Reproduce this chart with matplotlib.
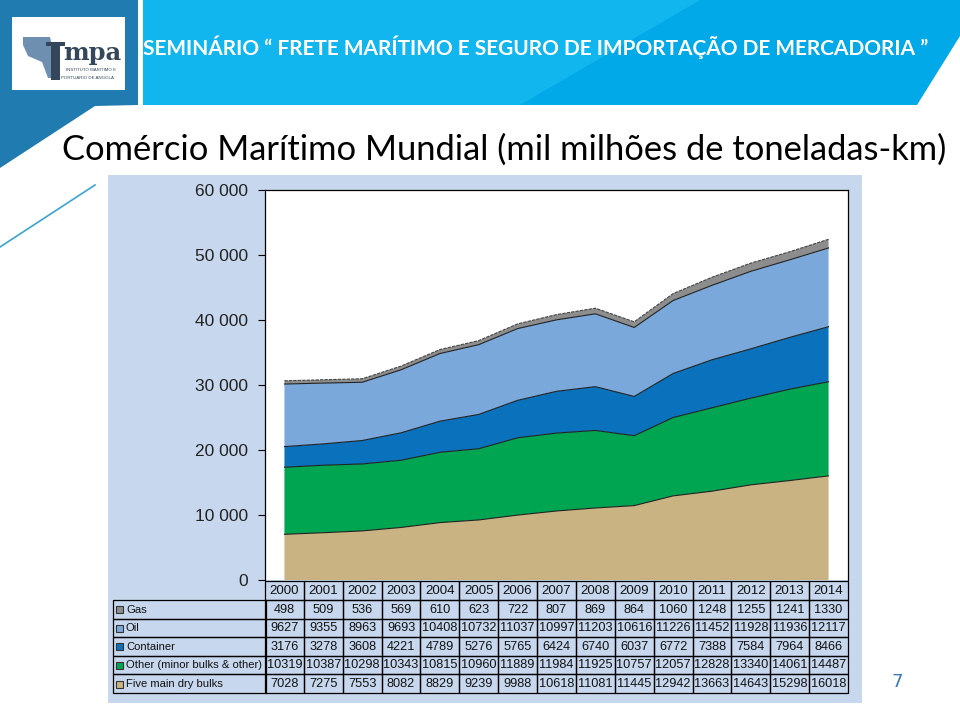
import matplotlib.pyplot as plt
from matplotlib.patches import Polygon, Rectangle
from matplotlib.transforms import blended_transform_factory

years = [2000, 2001, 2002, 2003, 2004, 2005, 2006, 2007, 2008, 2009, 2010, 2011, 2012, 2013, 2014]
gas = [498, 509, 536, 569, 610, 623, 722, 807, 869, 864, 1060, 1248, 1255, 1241, 1330]
oil = [9627, 9355, 8963, 9693, 10408, 10732, 11037, 10997, 11203, 10616, 11226, 11452, 11928, 11936, 12117]
container = [3176, 3278, 3608, 4221, 4789, 5276, 5765, 6424, 6740, 6037, 6772, 7388, 7584, 7964, 8466]
other = [10319, 10387, 10298, 10343, 10815, 10960, 11889, 11984, 11925, 10757, 12057, 12828, 13340, 14061, 14487]
dry_bulks = [7028, 7275, 7553, 8082, 8829, 9239, 9988, 10618, 11081, 11445, 12942, 13663, 14643, 15298, 16018]

row_names = ['Gas', 'Oil', 'Container', 'Other (minor bulks & other)', 'Five main dry bulks']
row_values = [gas, oil, container, other, dry_bulks]
row_colors = ['#8d8d8d', '#7ba8da', '#0a72bd', '#00a551', '#cab382']
y_ticks = [0, 10000, 20000, 30000, 40000, 50000, 60000]

title = 'Comércio Marítimo Mundial (mil milhões de toneladas-km)'
banner = 'SEMINÁRIO \u201c FRETE MARÍTIMO E SEGURO DE IMPORTAÇÃO DE MERCADORIA \u201d'

sans = 'Liberation Sans'

W, H = 960, 707
fig = plt.figure(figsize=(W / 100, H / 100), dpi=100)

# slide background drawn in pixel coordinates
bg = fig.add_axes([0, 0, 1, 1])
bg.set_xlim(0, W)
bg.set_ylim(H, 0)
bg.axis('off')

bg.add_patch(Polygon([(143, 0), (960, 0), (960, 36), (917, 105), (143, 105)], closed=True,
                     facecolor='#02a9e8', edgecolor='none'))
bg.add_patch(Polygon([(143, 0), (700, 0), (520, 105), (143, 105)], closed=True,
                     facecolor='#12b6ee', edgecolor='none'))
bg.add_patch(Polygon([(0, 0), (138, 0), (138, 105), (95, 106), (0, 168)], closed=True,
                     facecolor='#1f7bb0', edgecolor='none'))
bg.plot([0, 95], [247, 185], color='#3aa3cf', lw=1.2)

# logo
bg.add_patch(Rectangle((12, 17), 113, 73, facecolor='white', edgecolor='none'))
bg.add_patch(Polygon([(23, 37), (50, 37), (52, 46), (58, 52), (58, 78), (48, 78), (42, 62), (28, 56), (23, 45)],
                     closed=True, facecolor='#6f8fb0', edgecolor='none'))
bg.add_patch(Rectangle((51, 44), 9, 36, facecolor='#34475a', edgecolor='none'))
bg.add_patch(Rectangle((46, 42), 19, 4, facecolor='#34475a', edgecolor='none'))
bg.text(63, 60, 'mpa', fontsize=17.5, fontweight='bold', family='DejaVu Serif', color='#34475a',
        ha='left', va='baseline')
bg.text(66, 70, 'INSTITUTO MARÍTIMO E', fontsize=3.2, color='#34475a', ha='left', va='center', family=sans)
bg.text(61, 78, 'PORTUÁRIO DE ANGOLA', fontsize=3.2, color='#34475a', ha='left', va='center', family=sans)

bg.text(143, 47, banner, fontsize=15, fontweight='bold', color='white', ha='left', va='center',
        family=['Lato', 'DejaVu Sans'])
bg.text(62, 150, title, fontsize=24.8, color='black', ha='left', va='center', family=['Lato', 'DejaVu Sans'])
bg.text(897, 682, '7', fontsize=13, color='#3d7ab8', ha='center', va='center')

# chart panel
panel_color = '#c7d8ee'
bg.add_patch(Rectangle((108, 175), 754, 528, facecolor=panel_color, edgecolor='none'))

ax = fig.add_axes([265 / W, 1 - 580 / H, (848 - 265) / W, (580 - 190) / H])
stack = [dry_bulks, other, container, oil, gas]
colors = row_colors[::-1]
ax.stackplot(years, stack, colors=colors, edgecolor='none')
running = [0] * len(years)
for i, s in enumerate(stack):
    running = [a + b for a, b in zip(running, s)]
    ax.plot(years, running, color='#222222' if i < 4 else '#444444', lw=0.8,
            ls='-' if i < 4 else (0, (3, 1)))

ax.set_xlim(1999.5, 2014.5)
ax.set_ylim(0, 60000)
ax.set_yticks(y_ticks)
ax.set_yticklabels([f'{v:,}'.replace(',', ' ') for v in y_ticks])
ax.set_xticks([])
ax.tick_params(axis='y', direction='out', length=5, width=0.8, pad=7, labelsize=12.5, colors='black')
for lab in ax.get_yticklabels():
    lab.set_family(sans)
    lab.set_color('#222222')
ax.spines['bottom'].set_visible(False)
for side in ['left', 'top', 'right']:
    ax.spines[side].set_linewidth(0.9)
ax.set_facecolor('white')

# data table under the chart, columns aligned with the years
tr = blended_transform_factory(ax.transData, bg.transData)
header_top, header_bot = 581, 600
row_edges = [600, 618.5, 637, 655.5, 674, 693]
label_left = 113
lw = 0.9

for y in years:
    mid = (header_top + header_bot) / 2
    bg.add_patch(Rectangle((y - 0.5, header_top), 1, header_bot - header_top, transform=tr,
                           facecolor='none', edgecolor='black', lw=lw))
    bg.text(y, mid + 0.5, str(y), transform=tr, ha='center', va='center', fontsize=9.6, family=sans,
            color='#111111')

for r, (name, vals, col) in enumerate(zip(row_names, row_values, row_colors)):
    top, bot = row_edges[r], row_edges[r + 1]
    mid = (top + bot) / 2
    bg.add_patch(Rectangle((label_left, top), 266 - label_left, bot - top,
                           facecolor='none', edgecolor='black', lw=lw))
    bg.add_patch(Rectangle((116, mid - 3), 7, 7, facecolor=col, edgecolor='#333333', lw=0.8))
    bg.text(126, mid + 0.5, name, ha='left', va='center', fontsize=8.1, family=sans, color='#111111')
    for y, v in zip(years, vals):
        bg.add_patch(Rectangle((y - 0.5, top), 1, bot - top, transform=tr,
                               facecolor='none', edgecolor='black', lw=lw))
        bg.text(y, mid + 0.5, str(v), transform=tr, ha='center', va='center', fontsize=9.2, family=sans,
                color='#111111')

fig.savefig('out.png', dpi=100)
